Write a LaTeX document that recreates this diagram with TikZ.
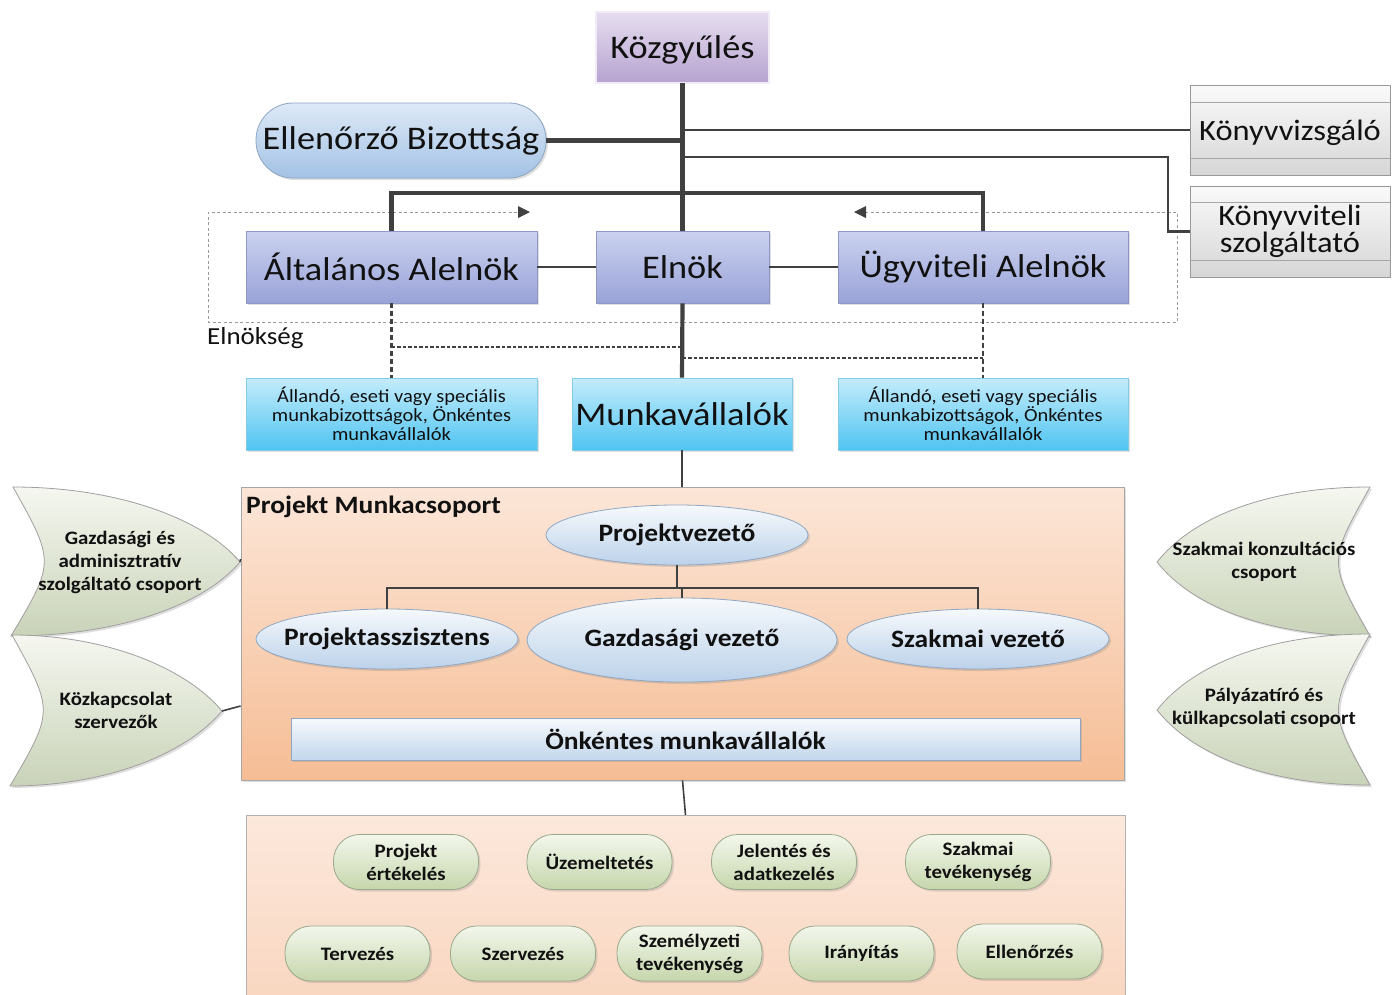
\documentclass[tikz,border=0pt]{standalone}
\usepackage{fontspec}
\setmainfont{Carlito}[FakeStretch=1.1]
\usetikzlibrary{shapes.geometric,shadows,arrows.meta}
\definecolor{txt}{HTML}{111111}
\definecolor{lin}{HTML}{404040}
\definecolor{kgT}{HTML}{E6DDF0}\definecolor{kgB}{HTML}{B6A3CF}
\definecolor{elT}{HTML}{CBD2EF}\definecolor{elB}{HTML}{99A3D8}\definecolor{elD}{HTML}{8E97C6}
\definecolor{cyT}{HTML}{C4ECFB}\definecolor{cyB}{HTML}{4FC4F1}\definecolor{cyD}{HTML}{86CBE6}
\definecolor{ebT}{HTML}{DDE9F6}\definecolor{ebB}{HTML}{A3C2E5}\definecolor{ebD}{HTML}{8CA6C4}
\definecolor{pmT}{HTML}{FCE6D8}\definecolor{pmB}{HTML}{F5BD95}
\definecolor{bbT}{HTML}{FCE8DC}\definecolor{bbB}{HTML}{F9D5BE}
\definecolor{blT}{HTML}{F6F9FC}\definecolor{blB}{HTML}{BCD2EA}\definecolor{blD}{HTML}{8FA7C2}
\definecolor{grT}{HTML}{F3F7EC}\definecolor{grB}{HTML}{C6D6AC}\definecolor{grD}{HTML}{9AA88A}
\definecolor{sdT}{HTML}{F5F7F0}\definecolor{sdB}{HTML}{C9D3B8}
\definecolor{gyT}{HTML}{FAFAFA}\definecolor{gyB}{HTML}{D6D6D6}
\newcommand\fsBig{\fontsize{33}{38}\selectfont}
\newcommand\fsKv{\fontsize{29.5}{27}\selectfont}
\newcommand\fsSm{\fontsize{18.6}{19}\selectfont}
\newcommand\fsGr{\fontsize{25}{28}\selectfont\bfseries}
\newcommand\fsPl{\fontsize{19}{23}\selectfont\bfseries}
\newcommand\nowd[1]{\makebox[0pt]{#1}}
\tikzset{
  every node/.style={inner sep=0pt, text=txt, align=center},
  shad/.style={drop shadow={shadow xshift=2pt,shadow yshift=-2pt,opacity=0.25}},
  kgbox/.style={rectangle, minimum width=173pt, minimum height=71pt, top color=kgT, bottom color=kgB,
     draw=gray, double=kgT!60!white, double distance=1.6pt, line width=0.6pt, font=\fsBig},
  elbox/.style={rectangle, minimum height=72pt, top color=elT, bottom color=elB, draw=elD, line width=0.8pt, font=\fsBig, shad},
  cybox/.style={rectangle, minimum height=72pt, top color=cyT, bottom color=cyB, draw=cyD, line width=0.8pt, shad},
  gybox/.style={rectangle, minimum width=200pt, top color=gyT, bottom color=gyB, draw=gray!80, line width=0.8pt, font=\fsKv},
  ellip/.style={ellipse, top color=blT, bottom color=blB, draw=blD, line width=0.8pt, font=\fsGr, shad},
  pill/.style={rectangle, rounded corners=26pt, minimum width=145pt, minimum height=55pt, top color=grT, bottom color=grB, draw=grD, line width=0.8pt, font=\fsPl, shad},
  sideshape/.style={top color=sdT, bottom color=sdB, draw=gray!75, line width=0.8pt},
  thickline/.style={draw=lin, line width=4.2pt},
  midline/.style={draw=lin, line width=2.4pt},
  thinline/.style={draw=lin, line width=1.6pt},
  dashv/.style={draw=lin, line width=2.8pt, dash pattern=on 5pt off 3pt},
  doth/.style={draw=lin, line width=2.8pt, dash pattern=on 3.5pt off 2pt},
  frame/.style={draw=gray!80, line width=0.8pt, dash pattern=on 3pt off 2.5pt},
}
\begin{document}
\begin{tikzpicture}[x=1pt,y=-1pt]
\useasboundingbox (0,0) rectangle (1397,994);
\clip (0,0) rectangle (1397,994);
\fill[white] (0,0) rectangle (1397,994);

% Elnökség frame
\draw[frame] (683,322) -- (208,322) -- (208,212) -- (518,212);
\draw[frame] (683,322) -- (1177,322) -- (1177,212) -- (866,212);
\fill[lin] (530,212) -- (518,206) -- (518,218) -- cycle;
\fill[lin] (854,212) -- (866,206) -- (866,218) -- cycle;
\node[anchor=west, font=\fontsize{24.5}{28}\selectfont] (elk) at (207,338) {Elnökség};

% top level
\node[kgbox, text depth=0pt] (kg) at (682.5,47.5) {Közgyűlés};
\node[rectangle, rounded corners=37pt, minimum width=290pt, minimum height=75pt, top color=ebT, bottom color=ebB, draw=ebD, line width=0.8pt, font=\fsBig, shad] (eb) at (401,140.5) {Ellenőrző Bizottság};
\node[gybox, minimum height=90pt, text depth=0pt] (kv) at (1290,130) {Könyvvizsgáló};
\node[gybox, minimum height=91pt] (ksz) at (1290,231.5) {Könyvviteli\\szolgáltató};
\draw[draw=gray!70, line width=0.6pt] (kv.north west) ++(0,18) -- ++(200,0);
\draw[draw=gray!70, line width=0.6pt] (kv.south west) ++(0,-17) -- ++(200,0);
\draw[draw=gray!70, line width=0.6pt] (ksz.north west) ++(0,17) -- ++(200,0);
\draw[draw=gray!70, line width=0.6pt] (ksz.south west) ++(0,-17) -- ++(200,0);

\node[elbox, minimum width=291pt] (aa) at (391.5,267) {Általános Alelnök};
\node[elbox, minimum width=173pt] (eln) at (682.5,267) {Elnök};
\node[elbox, minimum width=290pt] (ua) at (983,267) {Ügyviteli Alelnök};

\node[cybox, minimum width=291pt, font=\fsSm] (cl) at (391.5,414) {Állandó, eseti vagy speciális\\munkabizottságok, Önkéntes\\munkavállalók};
\node[cybox, minimum width=220pt, font=\fsBig, text depth=0pt] (mv) at (682,414) {Munkavállalók};
\node[cybox, minimum width=290pt, font=\fsSm] (cr) at (983,414) {Állandó, eseti vagy speciális\\munkabizottságok, Önkéntes\\munkavállalók};

% connectors top
\coordinate (bar) at (682.5,193);
\draw[thickline] (kg.south) -- (eln.north);
\draw[thickline] (eb.east) -- (eb.east -| kg.south);
\draw[midline] (kg.south |- kv.west) -- (kv.west);
\draw[midline] (kg.south |- 0,157) -- (1168,157) |- (ksz.west);
\draw[thickline] (aa.north) -- (aa.north |- bar) -| (ua.north);
\draw[midline] (aa.east) -- (eln.west);
\draw[midline] (eln.east) -- (ua.west);
\draw[thickline] (eln.south) -- (mv.north);
\draw[dashv] (aa.south) -- (cl.north);
\draw[dashv] (ua.south) -- (cr.north);
\draw[doth] (aa.south |- 0,347) -- (eln.south |- 0,347);
\draw[doth] (eln.south |- 0,358) -- (ua.south |- 0,358);

% Projekt Munkacsoport
\node[rectangle, minimum width=883pt, minimum height=293pt, top color=pmT, bottom color=pmB, draw=gray!70, line width=0.8pt, shad] (pm) at (682.5,633.5) {};
\draw[thinline] (mv.south) -- (mv.south |- pm.north);
\node[anchor=west, font=\fsGr] (pmt) at (246,507) {Projekt Munkacsoport};
\node[ellip, minimum width=262pt, minimum height=60pt] (pv) at (677,535) {\nowd{Projektvezető}};
\node[ellip, minimum width=262pt, minimum height=60pt] (pa) at (387,639) {\nowd{Projektasszisztens}};
\node[ellip, minimum width=310pt, minimum height=84pt] (gv) at (682,640) {\nowd{Gazdasági vezető}};
\node[ellip, minimum width=262pt, minimum height=60pt] (sv) at (978,639) {\nowd{Szakmai vezető}};
\coordinate (tb) at (677,588);
\draw[thinline] (pv.south) -- (tb);
\draw[thinline] (pa.north) |- (tb) -| (sv.north);
\draw[thinline] (gv.north) -- (gv.north |- tb);
\node[rectangle, minimum width=789pt, minimum height=42pt, top color=blT, bottom color=blB!90!white, draw=blD, line width=0.8pt, font=\fsGr, shad] (onk) at (685.5,739) {Önkéntes munkavállalók};

% bottom box
\node[rectangle, minimum width=879pt, minimum height=200pt, top color=bbT, bottom color=bbB, draw=gray!60, line width=0.8pt, anchor=north] (bb) at (685.5,815) {};
\draw[thinline] (pm.south) -- (bb.north);
\node[pill] (p1) at (406,862) {Projekt\\értékelés};
\node[pill] (p2) at (599.5,862) {Üzemeltetés};
\node[pill] (p3) at (784,862) {Jelentés és\\adatkezelés};
\node[pill] (p4) at (978,862) {Szakmai\\tevékenység};
\node[pill] (q1) at (357.5,953.5) {Tervezés};
\node[pill] (q2) at (523,953.5) {Szervezés};
\node[pill] (q3) at (689.5,953.5) {Személyzeti\\tevékenység};
\node[pill] (q4) at (861.5,953.5) {Irányítás};
\node[pill] (q5) at (1029.5,951.5) {Ellenőrzés};

% side shapes
\path[sideshape, shad] (13,487) .. controls (120,487) and (205,520) .. (240,562) .. controls (205,604) and (120,636) .. (11,636) .. controls (55,562) .. cycle;
\coordinate (t1) at (240,562);
\node[font=\fsPl] (s1) at (120,562) {Gazdasági és\\adminisztratív\\szolgáltató csoport};
\path[sideshape, shad] (12,635) .. controls (110,635) and (188,670) .. (222,711) .. controls (188,752) and (110,786) .. (10,786) .. controls (54,711) .. cycle;
\coordinate (t2) at (222,711);
\node[font=\fsPl] (s2) at (116,710) {Közkapcsolat\\szervezők};
\draw[thinline] (t1) -- (pm.west |- 0,559);
\draw[thinline] (t2) -- (pm.west |- 0,706);
\path[sideshape, shad] (1370,487) .. controls (1262,487) and (1190,520) .. (1157,562) .. controls (1190,604) and (1262,636) .. (1370,636) .. controls (1328,562) .. cycle;
\node[font=\fsPl] (s3) at (1264,562) {Szakmai konzultációs\\csoport};
\path[sideshape, shad] (1370,634) .. controls (1262,634) and (1190,668) .. (1157,710) .. controls (1190,752) and (1262,785) .. (1370,785) .. controls (1328,710) .. cycle;
\node[font=\fsPl] (s4) at (1264,708) {Pályázatíró és\\külkapcsolati csoport};
\end{tikzpicture}
\end{document}
